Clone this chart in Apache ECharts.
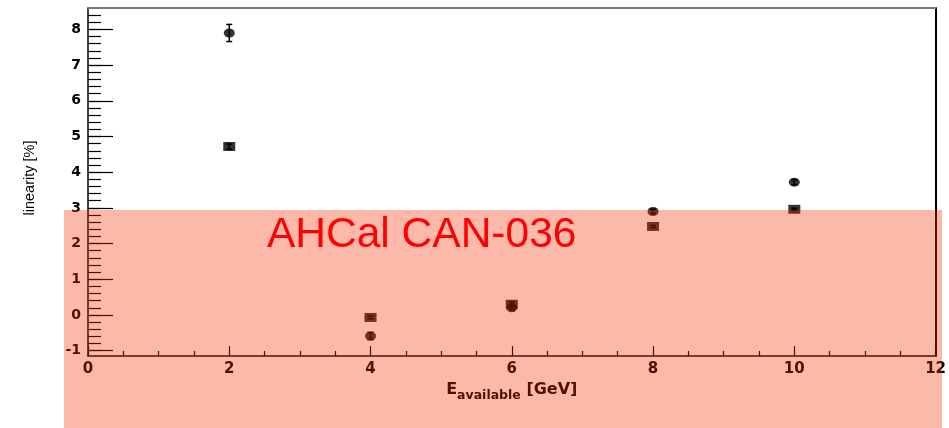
<!DOCTYPE html>
<html><head><meta charset="utf-8">
<script src="https://cdn.jsdelivr.net/npm/echarts@6/dist/echarts.min.js"></script>
<style>html,body{margin:0;padding:0;background:#fff}#c{width:949px;height:428px}</style>
</head><body><div id="c"></div>
<script>
// ---- data ----
const energies   = [2, 4, 6, 8, 10];
const circleVals = [7.90, -0.59, 0.20, 2.90, 3.72];
const circleErr  = [0.24, 0.10, 0.06, 0.06, 0.07];
const squareVals = [4.72, -0.07, 0.30, 2.48, 2.96];
const squareErr  = [0.07, 0.04, 0.06, 0.03, 0.03];
const yTicks = [-1, 0, 1, 2, 3, 4, 5, 6, 7, 8];
const xTicks = [0, 2, 4, 6, 8, 10, 12];
const yTitle = 'linearity [%]';
const annotation = 'AHCal CAN-036';

const yMinor = [];
for (let k = -5; k <= 42; k++) yMinor.push(+(k * 0.2).toFixed(2));

const chart = echarts.init(document.getElementById('c'));

function errBars(params, api) {
  const x = api.value(0), y = api.value(1), e = api.value(2);
  const p1 = api.coord([x, y + e]), p2 = api.coord([x, y - e]);
  const cap = 3;
  const st = { stroke: '#000', lineWidth: 1.5 };
  return { type: 'group', children: [
    { type: 'line', shape: { x1: p1[0], y1: p1[1], x2: p2[0], y2: p2[1] }, style: st },
    { type: 'line', shape: { x1: p1[0] - cap, y1: p1[1], x2: p1[0] + cap, y2: p1[1] }, style: st },
    { type: 'line', shape: { x1: p2[0] - cap, y1: p2[1], x2: p2[0] + cap, y2: p2[1] }, style: st }
  ]};
}

chart.setOption({
  animation: false,
  grid: { left: 88, right: 10, top: 8, bottom: 72, containLabel: false },
  xAxis: [
    {
      type: 'value', min: 0, max: 12, interval: 2, position: 'bottom',
      axisLine: { show: true, onZero: false, lineStyle: { color: '#000', width: 1.5 } },
      axisTick: { show: true, inside: true, length: 10, lineStyle: { color: '#000', width: 1.2 } },
      minorTick: { show: true, splitNumber: 4, length: 5, lineStyle: { color: '#000', width: 1.2 } },
      axisLabel: { margin: 6, fontFamily: 'DejaVu Sans', fontWeight: 'bold', fontSize: 15, color: '#000' },
      splitLine: { show: false },
      name: '{e|E}{s|available}{e| [GeV]}',
      nameLocation: 'middle', nameGap: 17,
      nameTextStyle: { rich: {
        e: { fontFamily: 'DejaVu Sans', fontWeight: 'bold', fontSize: 16, color: '#000', verticalAlign: 'bottom' },
        s: { fontFamily: 'DejaVu Sans', fontWeight: 'bold', fontSize: 12.5, color: '#000', verticalAlign: 'bottom', padding: [0, 0, -4, 0] }
      } }
    },
    {
      type: 'value', min: 0, max: 12, position: 'top',
      axisLine: { show: true, onZero: false, lineStyle: { color: '#777', width: 2 } },
      axisTick: { show: false }, axisLabel: { show: false }, splitLine: { show: false }
    }
  ],
  yAxis: [
    {
      type: 'value', min: -1.15, max: 8.6, position: 'left',
      axisLine: { show: true, onZero: false, lineStyle: { color: '#000', width: 1.5 } },
      axisTick: { show: true, inside: true, length: 25, customValues: yTicks, lineStyle: { color: '#000', width: 1.2 } },
      axisLabel: { margin: 7, customValues: yTicks, fontFamily: 'DejaVu Sans', fontWeight: 'bold', fontSize: 14, color: '#000' },
      splitLine: { show: false },
      name: yTitle, nameLocation: 'middle', nameGap: 51,
      nameTextStyle: { fontFamily: 'Liberation Sans', fontSize: 14.5, color: '#000', padding: [0, 0, 0, 8] }
    },
    {
      type: 'value', min: -1.15, max: 8.6, position: 'left',
      axisLine: { show: false },
      axisTick: { show: true, inside: true, length: 13, customValues: yMinor, lineStyle: { color: '#000', width: 1.2 } },
      axisLabel: { show: false }, splitLine: { show: false }
    },
    {
      type: 'value', min: -1.15, max: 8.6, position: 'right',
      axisLine: { show: true, onZero: false, lineStyle: { color: '#000', width: 2 } },
      axisTick: { show: false }, axisLabel: { show: false }, splitLine: { show: false }
    }
  ],
  series: [
    { type: 'custom', renderItem: errBars, xAxisIndex: 0, yAxisIndex: 0, z: 3,
      data: energies.map((x, i) => [x, circleVals[i], circleErr[i]]) },
    { type: 'custom', renderItem: errBars, xAxisIndex: 0, yAxisIndex: 0, z: 3,
      data: energies.map((x, i) => [x, squareVals[i], squareErr[i]]) },
    { type: 'scatter', xAxisIndex: 0, yAxisIndex: 0, symbol: 'circle', symbolSize: [11, 9], z: 4,
      itemStyle: { color: '#000' }, data: energies.map((x, i) => [x, circleVals[i]]) },
    { type: 'scatter', xAxisIndex: 0, yAxisIndex: 0, symbol: 'rect', symbolSize: [12, 9], z: 4,
      itemStyle: { color: '#000' }, data: energies.map((x, i) => [x, squareVals[i]]) }
  ],
  graphic: [
    { type: 'rect', z: 100, shape: { x: 64, y: 210, width: 878, height: 218 },
      style: { fill: 'rgba(246,45,0,0.333)' } },
    { type: 'text', z: 101, x: 267, y: 235,
      style: { text: annotation, fill: '#ff0000', font: '42.5px "Liberation Sans", Arial, sans-serif',
               textAlign: 'left', textVerticalAlign: 'middle' } }
  ]
});
</script></body></html>
